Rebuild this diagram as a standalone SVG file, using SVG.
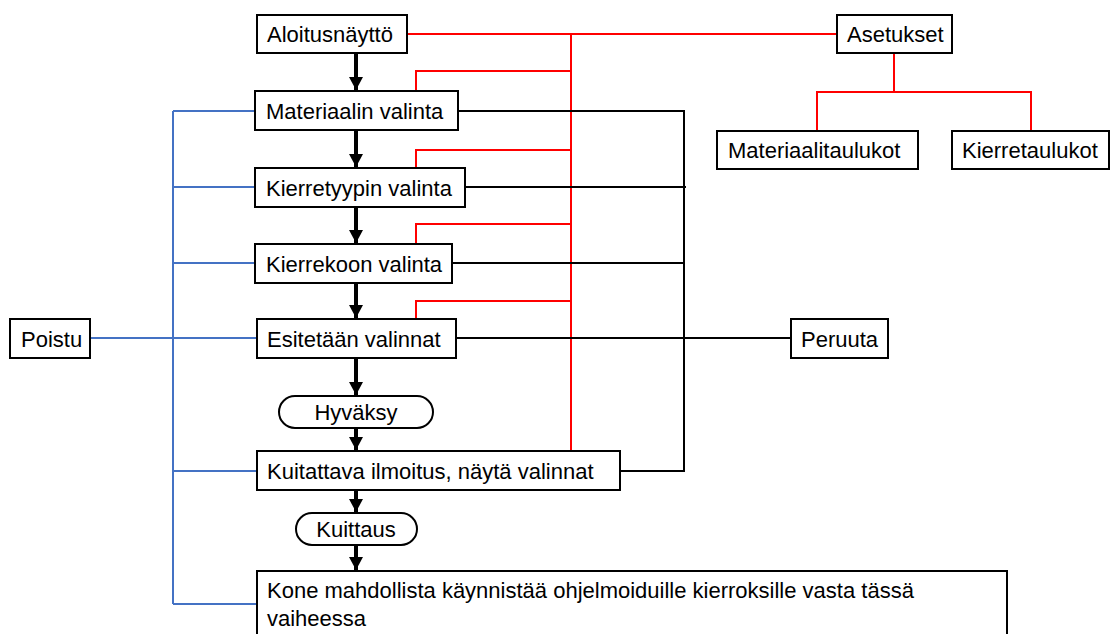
<svg xmlns="http://www.w3.org/2000/svg" width="1112" height="634" viewBox="0 0 1112 634">
<style>
.box{fill:#fff;stroke:#000;stroke-width:2}
.t{font-family:"Liberation Sans",Arial,sans-serif;font-size:22px;fill:#000}
.c{text-anchor:middle}
.red{fill:none;stroke:#ff0000;stroke-width:2}
.blue{fill:none;stroke:#4472c4;stroke-width:2}
.blk{fill:none;stroke:#000;stroke-width:2}
.arr{fill:none;stroke:#000;stroke-width:4;marker-end:url(#ah)}
</style>
<defs>
<marker id="ah" markerUnits="userSpaceOnUse" markerWidth="14" markerHeight="14" refX="13" refY="7" orient="auto">
<path d="M0,0 L13,7 L0,14 Z" fill="#000"/>
</marker>
</defs>
<g id="connectors">
<path class="red" d="M407,34 H837"/>
<path class="red" d="M571,34 V451"/>
<path class="red" d="M571,71 H416 V91"/>
<path class="red" d="M571,150 H416 V168"/>
<path class="red" d="M571,224 H416 V244"/>
<path class="red" d="M571,301 H416 V319"/>
<path class="red" d="M894,53 V92 M817,131 V92 H1031 V131"/>
<path class="blk" d="M458,111 H684 V471 H620"/>
<path class="blk" d="M465,187 H686"/>
<path class="blk" d="M452,263 H684"/>
<path class="blk" d="M456,338 H791"/>
<path class="blue" d="M173,111 V604"/>
<path class="blue" d="M173,111 H255 M173,187 H255 M173,263 H255 M90,338 H257 M173,471 H257 M173,604 H257"/>
<path class="arr" d="M356,53 V90"/>
<path class="arr" d="M356,130 V167"/>
<path class="arr" d="M356,207 V243"/>
<path class="arr" d="M356,283 V318"/>
<path class="arr" d="M356,358 V395"/>
<path class="arr" d="M356,428 V450"/>
<path class="arr" d="M356,490 V512"/>
<path class="arr" d="M356,545 V570"/>
</g>
<g id="aloitus"><rect class="box" x="257" y="15" width="150" height="38"/><text class="t" x="267" y="42">Aloitusnäyttö</text></g>
<g id="asetukset"><rect class="box" x="837" y="15" width="115" height="38"/><text class="t" x="847" y="42">Asetukset</text></g>
<g id="materiaalitaulukot"><rect class="box" x="717" y="131" width="201" height="38"/><text class="t" x="728" y="158">Materiaalitaulukot</text></g>
<g id="kierretaulukot"><rect class="box" x="952" y="131" width="157" height="38"/><text class="t" x="962" y="158">Kierretaulukot</text></g>
<g id="materiaalin"><rect class="box" x="255" y="91" width="203" height="39"/><text class="t" x="266" y="119">Materiaalin valinta</text></g>
<g id="kierretyypin"><rect class="box" x="255" y="168" width="210" height="39"/><text class="t" x="266" y="196">Kierretyypin valinta</text></g>
<g id="kierrekoon"><rect class="box" x="255" y="244" width="197" height="39"/><text class="t" x="266" y="272">Kierrekoon valinta</text></g>
<g id="esitetaan"><rect class="box" x="257" y="319" width="199" height="39"/><text class="t" x="267" y="347">Esitetään valinnat</text></g>
<g id="poistu"><rect class="box" x="10" y="319" width="80" height="39"/><text class="t" x="21" y="347">Poistu</text></g>
<g id="peruuta"><rect class="box" x="791" y="319" width="97" height="39"/><text class="t" x="801" y="347">Peruuta</text></g>
<g id="hyvaksy"><rect class="box" x="279" y="396" width="154" height="32" rx="16" ry="16"/><text class="t c" x="356" y="420">Hyväksy</text></g>
<g id="kuitattava"><rect class="box" x="257" y="451" width="363" height="39"/><text class="t" x="267" y="479">Kuitattava ilmoitus, näytä valinnat</text></g>
<g id="kuittaus"><rect class="box" x="296" y="513" width="121" height="32" rx="16" ry="16"/><text class="t c" x="356" y="537">Kuittaus</text></g>
<g id="kone"><rect class="box" x="257" y="571" width="750" height="80"/><text class="t" x="267" y="598">Kone mahdollista käynnistää ohjelmoiduille kierroksille vasta tässä</text><text class="t" x="267" y="626">vaiheessa</text></g>
</svg>
